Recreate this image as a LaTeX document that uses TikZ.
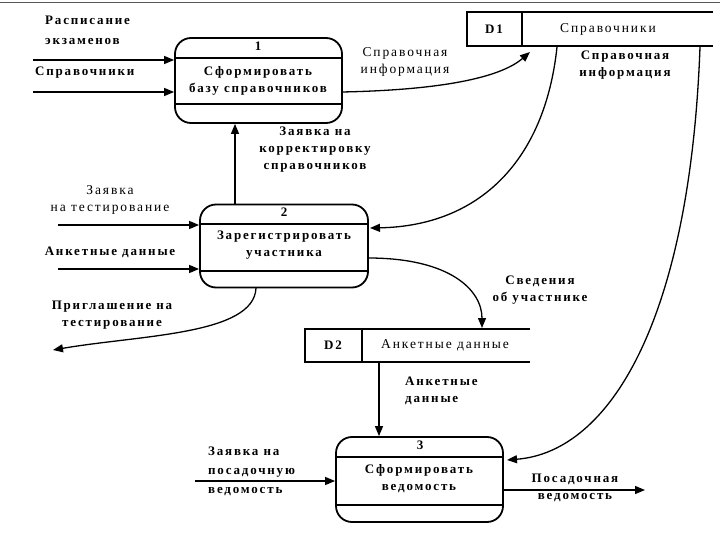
\documentclass[tikz,border=0pt]{standalone}
\usepackage{fontspec}
\setmainfont{Liberation Serif}[LetterSpace=14]
\usetikzlibrary{arrows.meta}
\tikzset{
  proc/.style={draw, line width=1.8pt, rounded corners=16pt, minimum width=167pt, minimum height=85pt, inner sep=0pt},
  lbl/.style={font=\fontsize{13.5}{17}\selectfont, align=center, inner sep=0pt},
  lblb/.style={font=\fontsize{13}{17}\selectfont\bfseries, align=center, inner sep=0pt},
  flow/.style={line width=1.3pt, -{Triangle[length=10pt,width=8pt]}},
  store/.style={line width=1.2pt},
  sep/.style={line width=1.1pt},
}
\begin{document}
\begin{tikzpicture}[x=1pt,y=-1pt]
\useasboundingbox (0,0) rectangle (720,540);
\draw[gray!70!black, line width=1.3pt] (0,2.5) -- (720,2.5);

% Process 1
\node[proc] (p1) at (258.5,80.5) {};
\draw[sep] (175,58) -- (342,58);
\draw[sep] (175,104) -- (342,104);
\node[lblb] (n1) at (258,46) {1};
\node[lblb] (t1) at (258,81) {Сформировать\\базу справочников};

% Process 2
\node[proc, minimum height=83pt, minimum width=168pt] (p2) at (284,246) {};
\draw[sep] (200,224) -- (368,224);
\draw[sep] (200,271) -- (368,271);
\node[lblb] (n2) at (284,212) {2};
\node[lblb] (t2) at (284,245) {Зарегистрировать\\участника};

% Process 3
\node[proc] (p3) at (419.5,479.5) {};
\draw[sep] (336,457) -- (503,457);
\draw[sep] (336,505) -- (503,505);
\node[lblb] (n3) at (420,445) {3};
\node[lblb] (t3) at (419,479) {Сформировать\\ведомость};

% Store D1
\draw[store] (713,12) -- (467,12) -- (467,46) -- (713,46);
\draw[store] (522,12) -- (522,46);
\node[lblb] (d1) at (494,29) {D1};
\node[lbl] (d1t) at (608,29) {Справочники};
\coordinate (d1a) at (530,52);
\coordinate (d1b) at (557,47);
\coordinate (d1c) at (700,47);

% Store D2
\draw[store] (530,329) -- (305,329) -- (305,362) -- (530,362);
\draw[store] (362,329) -- (362,362);
\node[lblb] (d2) at (333,345) {D2};
\node[lbl] (d2t) at (445,345) {Анкетные данные};
\coordinate (d2a) at (482,328);
\coordinate (d2b) at (379,362);

% free ends
\coordinate (s1) at (33,60);
\coordinate (s2) at (33,92);
\coordinate (s3) at (58,225);
\coordinate (s4) at (58,269);
\coordinate (e1) at (53,350);
\coordinate (s5) at (195,481);
\coordinate (e2) at (645,490);

% flows
\draw[flow] (s1) -- (p1.west |- s1);
\draw[flow] (s2) -- (p1.west |- s2);
\draw[flow] (342,92) .. controls (440,90) and (500,78) .. (d1a);
\draw[flow] (d1b) .. controls (545,160) and (480,226) .. (370,228);
\draw[flow] (d1c) .. controls (690,320) and (610,452) .. (507,460);
\draw[flow] (p2.north -| 235,0) -- (p1.south -| 235,0);
\draw[flow] (s3) -- (p2.west |- s3);
\draw[flow] (s4) -- (p2.west |- s4);
\draw[flow] (256,288) .. controls (254,335) and (140,335) .. (e1);
\draw[flow] (368,258) .. controls (450,258) and (482,290) .. (d2a);
\draw[flow] (d2b) -- (p3.north -| d2b);
\draw[flow] (s5) -- (p3.west |- s5);
\draw[flow] (p3.east |- e2) -- (e2);

% labels
\node[lblb, anchor=west, align=left, font=\fontsize{13}{20}\selectfont\bfseries] (l1) at (45,30) {Расписание\\экзаменов};
\node[lblb, anchor=west] (l2) at (35,73) {Справочники};
\node[lbl] (l3) at (405,62) {Справочная\\информация};
\node[lblb] (l4) at (625,65) {Справочная\\информация};
\node[lblb] (l5) at (315,150) {Заявка на\\корректировку\\справочников};
\node[lbl] (l6) at (110,200) {Заявка\\на тестирование};
\node[lblb] (l7) at (110,252) {Анкетные данные};
\node[lblb] (l8) at (112,315) {Приглашение на\\тестирование};
\node[lblb] (l9) at (540,290) {Сведения\\об участнике};
\node[lblb, anchor=west, align=left] (l10) at (405,391) {Анкетные\\данные};
\node[lblb, anchor=west, align=left, font=\fontsize{13}{19}\selectfont\bfseries] (l11) at (208,471) {Заявка на\\посадочную\\ведомость};
\node[lblb] (l12) at (575,488) {Посадочная\\ведомость};
\end{tikzpicture}
\end{document}
